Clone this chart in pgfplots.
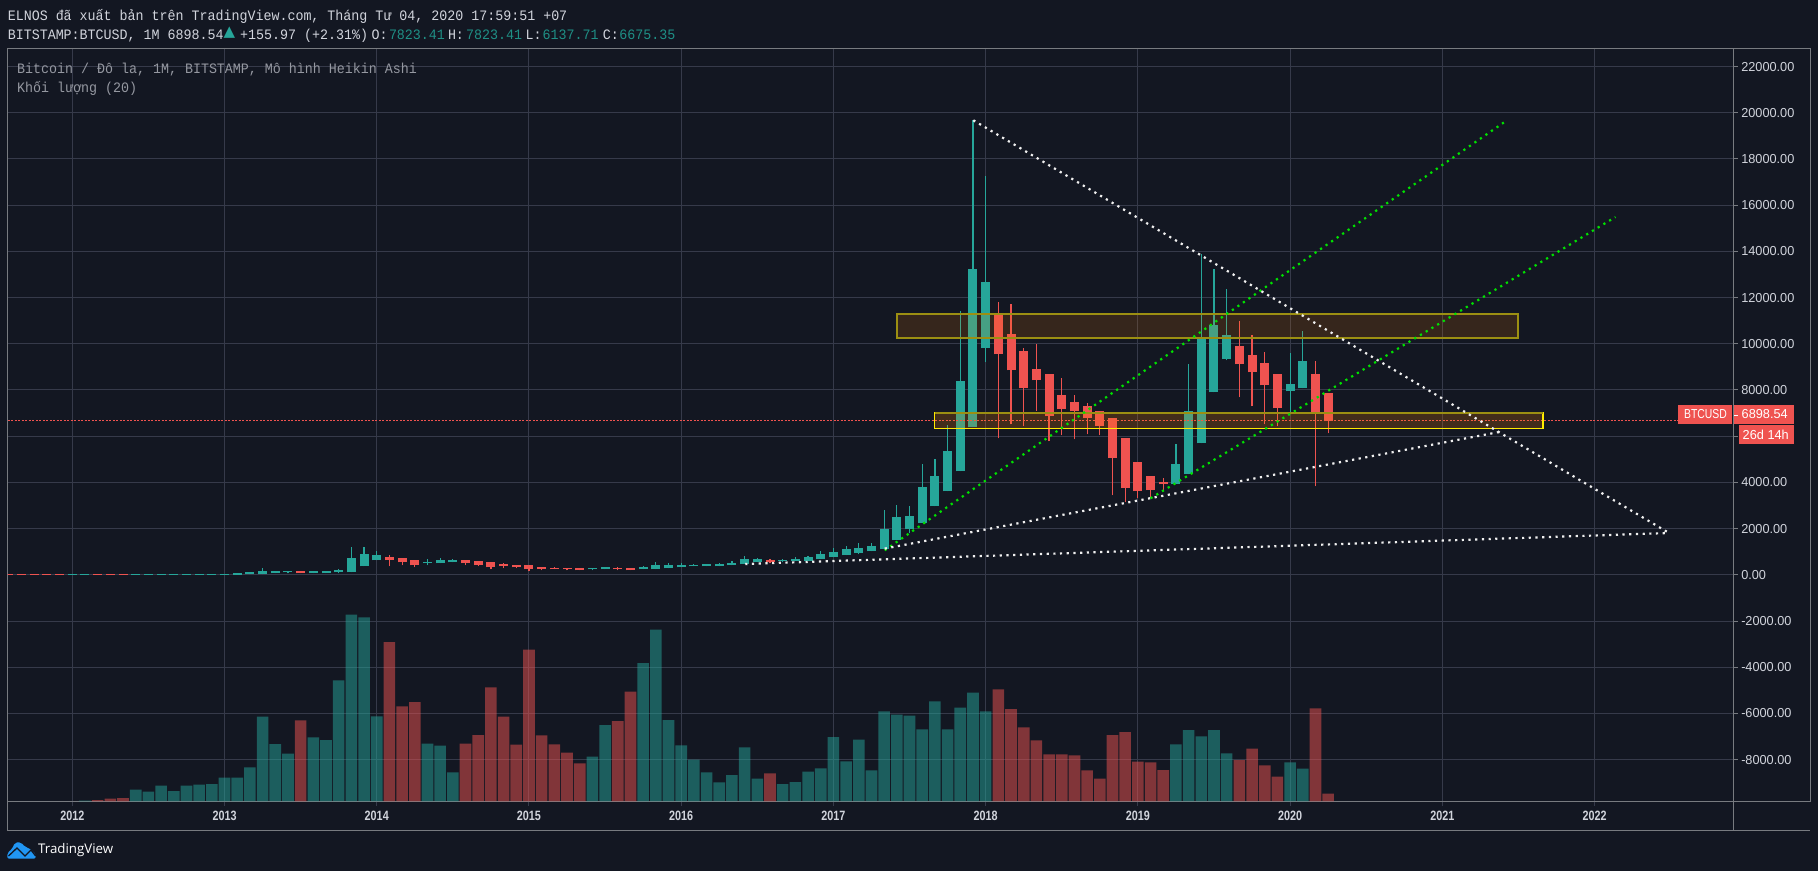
\documentclass[border=0pt]{standalone}
\usepackage{fontspec}
\usepackage{pgfplots}
\usepackage{pgfplotstable}
\pgfplotsset{compat=1.18}
\setmainfont{Liberation Mono}
\newfontfamily\hdrfam[FakeStretch=0.925]{Liberation Mono}
\newfontfamily\numfam[FakeStretch=0.98]{Liberation Sans}
\newfontfamily\btcfam[FakeStretch=0.8]{Liberation Sans}
\newfontfamily\numbfam[FakeStretch=0.80]{Liberation Sans Bold}
\newfontfamily\logofam{Open Sans}
\newfontfamily\symfam{DejaVu Sans}
\newcommand\hdr{\hdrfam\fontsize{14.4}{16}\selectfont}
\definecolor{bg}{HTML}{131722}
\definecolor{gridc}{HTML}{363A4A}
\definecolor{frame}{HTML}{787B80}
\definecolor{upc}{HTML}{26A69A}
\definecolor{dnc}{HTML}{EF5350}
\definecolor{upt}{HTML}{1F8F85}
\definecolor{txtc}{HTML}{D1D4DC}
\definecolor{dimc}{HTML}{9598A1}
\definecolor{dotg}{HTML}{00E000}
\definecolor{dotw}{HTML}{F0F0F0}
\definecolor{lineb}{HTML}{9C8F12}
\definecolor{lineby}{HTML}{FFEB00}
\definecolor{tvb}{HTML}{2196F3}

% month index (0 = Jan 2012), wick low, body bottom, body top, wick high
\pgfplotstableread{
m wl bb bt wh
0 0 0 40 40
1 0 0 40 40
5 0 0 40 40
6 0 0 40 40
7 0 0 40 40
8 0 0 40 40
9 0 0 40 40
10 0 0 40 40
11 0 0 40 40
12 0 0 36 36
13 0 0 64 64
14 21 21 108 108
15 21 21 151 281
16 64 64 151 151
17 64 108 151 151
19 64 64 151 151
20 64 64 151 151
21 64 108 194 238
22 108 108 714 1190
23 368 368 887 1190
24 627 627 844 1017
28 411 497 541 671
29 497 497 627 714
30 541 541 627 671
41 194 238 281 281
42 238 238 324 324
45 238 238 324 368
46 238 238 411 541
47 281 281 411 497
48 324 324 411 497
49 368 368 411 454
50 368 368 454 454
51 368 368 454 497
52 411 411 497 584
53 454 454 671 800
54 541 541 671 714
56 541 584 627 671
57 584 584 671 757
58 584 584 757 800
59 671 671 887 1017
60 757 757 974 1147
61 843 843 1104 1233
62 888 930 1147 1363
63 1017 1017 1233 1363
64 1104 1104 1970 2792
65 1493 1493 2489 3008
66 1796 1970 2532 2965
67 2229 2229 3788 4783
68 2965 2965 4264 4999
69 3615 3615 5346 6472
70 4480 4480 8376 11407
71 6385 6385 13225 19675
72 9199 9805 12662 17251
87 3918 3918 4783 5649
88 4350 4350 7078 9112
89 5693 5693 10195 13874
90 7900 7900 10801 13225
91 9285 9329 10368 12359
96 6992 7944 8247 9589
97 8074 8074 9243 10542
}\upcandles
\pgfplotstableread{
m wl bb bt wh
-5 0 0 30 30
-4 0 0 30 30
-3 0 0 30 30
-2 0 0 30 30
-1 0 0 30 30
2 0 0 40 40
3 0 0 40 40
4 0 0 40 40
18 64 64 151 151
25 368 627 757 844
26 411 541 714 714
27 324 411 627 627
31 411 497 627 627
32 368 411 584 584
33 238 324 541 541
34 281 368 454 497
35 281 324 411 411
36 151 238 411 411
37 194 238 324 324
38 238 238 281 324
39 194 238 281 281
40 194 194 281 281
43 194 238 281 324
44 194 194 281 281
55 497 541 627 671
73 5909 9545 11234 11796
74 6515 8853 10411 11710
75 6428 8073 9675 9805
76 7091 8420 8896 9978
77 5779 6861 8680 8680
78 6039 7164 7771 8506
79 5866 7078 7468 7771
80 6082 6775 7294 7424
81 6039 6428 7078 7078
82 3441 5043 6775 6775
83 3138 3744 5909 5909
84 3312 3615 4870 4870
85 3312 3658 4264 4264
86 3658 3918 4004 4177
92 7684 9112 9892 10974
93 7294 8766 9502 10368
94 6515 8203 9156 9632
95 6429 7208 8680 8680
98 3832 6992 8680 9243
99 6126 6645 7857 7857
}\dncandles
% volume, in the height it has on the chart
\pgfplotstableread{
m v
1 0.7
5 11.7
6 9.7
7 15.7
8 10.3
9 15.7
10 16.7
11 17.3
12 23.7
13 23.7
14 34
15 84.7
16 57.3
17 47.7
19 64
20 61.3
21 121
22 186.7
23 184
24 85
28 57.7
29 55.7
30 29
41 44.7
42 76.3
45 138.3
46 171.7
47 81.3
48 56
49 41.7
50 29
51 19
52 26.3
53 54
54 22.7
56 17.3
57 19.3
58 29.7
59 33
60 64.3
61 40
62 61.7
63 31
64 90
65 86.7
66 85.7
67 72
68 100
69 72
70 93.7
71 108.7
72 90
87 57
88 71.3
89 65
90 71.3
91 48
96 39
97 32.7
}\upvol
\pgfplotstableread{
m v
2 1.3
3 2.7
4 3.3
18 81
25 159.3
26 95
27 99.3
31 57.7
32 66.3
33 114
34 84.7
35 56.7
36 151.7
37 66
38 57
39 48.7
40 38
43 80.3
44 109.7
55 28
73 112
74 92.3
75 74
76 61
77 47
78 47
79 46
80 31
81 22.7
82 66.3
83 69.3
84 39.7
85 39
86 31.3
92 41.3
93 52.7
94 36
95 24.7
98 93
99 7.7
}\dnvol

\pgfplotsset{
  wick/.style={draw=none, mark=none, forget plot,
    error bars/.cd, y dir=plus, y explicit, error mark=none,
    error bar style={line width=1.2pt, color=#1}},
  body/.style={draw=none, mark=none, forget plot,
    error bars/.cd, y dir=plus, y explicit, error mark=none,
    error bar style={line width=9pt, color=#1}},
  dotline/.style={color=#1, line width=2.2pt, dash pattern=on 2.2pt off 4.5pt, no marks, forget plot},
}
\newcommand\tx[4]{\node[anchor=base west,inner sep=0pt,text=#1] at (#2,{871-#3}) {\hdr #4};}

\begin{document}
\begin{tikzpicture}[x=1pt,y=1pt]
\fill[bg] (0,0) rectangle (1818,871);
\path[use as bounding box] (0,0) rectangle (1818,871);

\begin{axis}[
  at={(7.6pt,69.7pt)}, anchor=south west,
  scale only axis, width=1726.1pt, height=753pt,
  xmin=-5.1, xmax=130.97, ymin=-9805, ymax=22792,
  xtick={0,12,24,36,48,60,72,84,96,108,120},
  xticklabels={2012,2013,2014,2015,2016,2017,2018,2019,2020,2021,2022},
  ytick={-8000,-6000,-4000,-2000,0,2000,4000,6000,8000,10000,12000,14000,16000,18000,20000,22000},
  xtick pos=bottom, ytick pos=right, yticklabel pos=right,
  tick align=outside, major tick length=4.5pt,
  grid=major, grid style={gridc, line width=1pt},
  x tick style={gridc, line width=1pt}, y tick style={frame, line width=1pt},
  axis line style={frame, line width=1pt},
  /pgf/number format/assume math mode=true,
  /pgf/number format/fixed, /pgf/number format/fixed zerofill,
  /pgf/number format/precision=2, /pgf/number format/1000 sep={},
  scaled y ticks=false,
  yticklabel style={font=\numfam\fontsize{13}{14}\selectfont, text=txtc, anchor=west, xshift=-0.5pt},
  xticklabel style={font=\numbfam\fontsize{13.5}{14}\selectfont, text=txtc, anchor=center, yshift=-10pt},
  clip=true,
]
\addplot[wick=upc] table[x=m, y=wl, y error plus expr=\thisrow{wh}-\thisrow{wl}] {\upcandles};
\addplot[wick=dnc] table[x=m, y=wl, y error plus expr=\thisrow{wh}-\thisrow{wl}] {\dncandles};
\addplot[body=upc] table[x=m, y=bb, y error plus expr=\thisrow{bt}-\thisrow{bb}] {\upcandles};
\addplot[body=dnc] table[x=m, y=bb, y error plus expr=\thisrow{bt}-\thisrow{bb}] {\dncandles};
% last-price line
\addplot[dnc, line width=1pt, dash pattern=on 2pt off 1.5pt, no marks, forget plot] coordinates {(-5.1,6675) (126.7,6675)};
% zones
\addplot[draw=lineb, line width=2pt, fill=orange, fill opacity=0.15, forget plot] coordinates {(64.98,10238) (113.94,10238) (113.94,11277) (64.98,11277)} -- cycle;
\addplot[draw=lineby, line width=1.4pt, fill=orange, fill opacity=0.2, forget plot] coordinates {(67.98,6327) (115.93,6327) (115.93,7005) (67.98,7005)} -- cycle;
\addplot[lineb, line width=1.4pt, no marks, forget plot] coordinates {(67.98,7005) (115.93,7005)};
% trend lines
\addplot[dotline=dotg] coordinates {(64.04,1061) (112.87,19589)};
\addplot[dotline=dotg] coordinates {(85.0,3312) (121.65,15489)};
\addplot[dotline=dotw] coordinates {(71.03,19675) (125.87,1810)};
\addplot[dotline=dotw] coordinates {(64.04,1134) (112.65,6199)};
\addplot[dotline=dotw] coordinates {(53.05,468) (125.87,1810)};
\end{axis}

\begin{axis}[
  at={(7.6pt,69.7pt)}, anchor=south west,
  scale only axis, width=1726.1pt, height=753pt,
  xmin=-5.1, xmax=130.97, ymin=0, ymax=753,
  hide axis, ybar, bar width=11.6pt,
]
\addplot[ybar, bar shift=0pt, draw=none, fill=upc, fill opacity=0.5, forget plot] table[x=m, y=v] {\upvol};
\addplot[ybar, bar shift=0pt, draw=none, fill=dnc, fill opacity=0.5, forget plot] table[x=m, y=v] {\dnvol};
\end{axis}

% outer frame and time-scale box
\draw[frame, line width=1pt] (1733.7,69.7) -- (1810.3,69.7) -- (1810.3,822.7) -- (1733.7,822.7);
\draw[frame, line width=1pt] (7.6,69.7) -- (7.6,40.7) -- (1810.3,40.7);
\draw[frame, line width=1pt] (1733.7,69.7) -- (1733.7,40.7);

% header
\tx{txtc}{7.6}{21}{ELNOS đã xuất bản trên TradingView.com, Tháng Tư 04, 2020 17:59:51 +07}
\tx{txtc}{7.6}{40}{BITSTAMP:BTCUSD, 1M 6898.54}
\node[text=upc,inner sep=0pt,anchor=center] at (229.5,838) {\symfam\fontsize{15}{16}\selectfont ▲};
\tx{txtc}{240}{40}{+155.97 (+2.31\%)}
\tx{txtc}{371.4}{40}{O:}
\tx{upt}{388.8}{40}{7823.41}
\tx{txtc}{447.8}{40}{H:}
\tx{upt}{466}{40}{7823.41}
\tx{txtc}{525.4}{40}{L:}
\tx{upt}{542.4}{40}{6137.71}
\tx{txtc}{602.7}{40}{C:}
\tx{upt}{619.2}{40}{6675.35}
\tx{dimc}{17}{74}{Bitcoin / Đô la, 1M, BITSTAMP, Mô hình Heikin Ashi}
\tx{dimc}{17}{93}{Khối lượng (20)}

% price labels
\fill[dnc] (1678,{871-405}) rectangle (1732,{871-424});
\node[text=white,inner sep=0pt] at (1705.5,{871-414.5}) {\btcfam\fontsize{13}{14}\selectfont BTCUSD};
\fill[dnc] (1733.7,{871-405}) rectangle (1793.7,{871-424});
\fill[white] (1733.7,{871-414.9}) rectangle (1737.7,{871-415.9});
\node[text=white,inner sep=0pt,anchor=west] at (1741.5,{871-414.5}) {\numfam\fontsize{13}{14}\selectfont 6898.54};
\fill[dnc] (1739,{871-425.3}) rectangle (1793.7,{871-444});
\node[text=white,inner sep=0pt,anchor=west] at (1742.5,{871-434.7}) {\numfam\fontsize{13}{14}\selectfont 26d 14h};

% logo
\begin{scope}[shift={(0,871)},y=-1pt]
\fill[tvb,rounded corners=2pt] (7.3,858.7) -- (7.3,853) -- (12,849) -- (15,842.5) -- (21,842.3) -- (25,847) -- (29,848) -- (35.7,854) -- (35.7,858.7) -- cycle;
\draw[bg,line width=1.3pt] (8.5,856) -- (17,848) -- (25,856) -- (31,850) -- (35.7,856);
\node[anchor=west,inner sep=0pt,text=white] at (38,850) {\logofam\fontsize{13.3}{15}\selectfont TradingView};
\end{scope}
\end{tikzpicture}
\end{document}
